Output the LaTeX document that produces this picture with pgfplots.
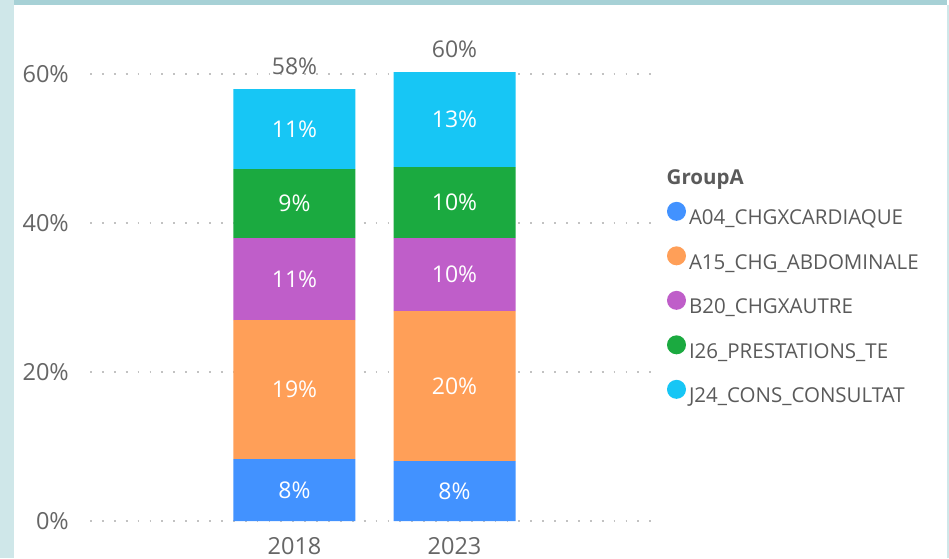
\documentclass[border=0pt]{standalone}
\usepackage{fontspec}
\setmainfont{Open Sans}
\usepackage{pgfplots}
\pgfplotsset{compat=1.18}
\usepackage{pgfplotstable}
\definecolor{cA}{HTML}{4292FF}
\definecolor{cB}{HTML}{FF9F58}
\definecolor{cC}{HTML}{BF5EC9}
\definecolor{cD}{HTML}{1BAA40}
\definecolor{cE}{HTML}{17C6F5}
\definecolor{txt}{HTML}{666666}
\definecolor{legtxt}{HTML}{5A5A5A}
\definecolor{leftbg}{HTML}{CFE7E9}
\definecolor{topbg}{HTML}{A7D1D6}
\definecolor{gridc}{HTML}{C2C2C2}

% segment values (%), their rounded labels, label positions (segment middles) and totals
\pgfplotstableread{
x a b c d e la lb lc ld le ma mb mc md me top tot
0 8.32 18.66 11.00 9.26 10.74 8 19 11 9 11 4.16 17.65 32.48 42.61 52.61 57.98 58
1 8.05 20.13 9.80 9.53 12.75 8 20 10 10 13 4.03 18.12 33.08 42.75 53.89 60.26 60
}\data

\begin{document}
\begin{tikzpicture}[x=1pt,y=1pt,font=\fontsize{23}{27}\selectfont]
\useasboundingbox (0,0) rectangle (949,558);
\fill[white] (0,0) rectangle (949,558);
\fill[leftbg] (0,0) rectangle (14,558);
\fill[topbg] (14,553) rectangle (947,558);
\fill[leftbg] (947,0) rectangle (949,553);
\begin{axis}[
  at={(90pt,37pt)}, anchor=south west,
  scale only axis, width=565pt, height=447pt,
  xmin=-1.278, xmax=2.253, ymin=0, ymax=60,
  enlargelimits=false, clip=false,
  ybar stacked, bar width=122pt,
  axis line style={draw=none},
  major tick length=0pt,
  /pgf/number format/assume math mode=true,
  tick label style={font=\fontsize{23.5}{27}\selectfont},
  xtick={0,1}, xticklabels={2018,2023},
  xticklabel style={text=txt, inner sep=0pt, anchor=north, yshift=-16pt},
  ytick={0,20,40,60},
  yticklabel={\pgfmathprintnumber{\tick}\%},
  yticklabel style={text=txt, inner sep=0pt, anchor=east, xshift=-21pt},
  ymajorgrids,
  major grid style={gridc, line width=1.8pt, dash pattern=on 1.8pt off 10.1pt},
  legend cell align=left,
  legend style={at={(1.02124,0.714)}, anchor=north west, draw=none, fill=none,
    inner sep=0pt, outer sep=0pt, row sep=17.5pt, text=legtxt,
    font=\fontsize{20.5}{24}\selectfont,
    nodes={inner sep=0pt, text height=15pt, text depth=4pt},
    /tikz/every odd column/.append style={column sep=3pt}},
  legend image code/.code={\fill[#1] (9.5pt,8pt) circle (9.5pt);},
]
\addplot[fill=cA, draw=none] table[x=x,y=a]{\data};
\addlegendentry{A04\_CHGXCARDIAQUE}
\addplot[fill=cB, draw=none] table[x=x,y=b]{\data};
\addlegendentry{A15\_CHG\_ABDOMINALE}
\addplot[fill=cC, draw=none] table[x=x,y=c]{\data};
\addlegendentry{B20\_CHGXAUTRE}
\addplot[fill=cD, draw=none] table[x=x,y=d]{\data};
\addlegendentry{I26\_PRESTATIONS\_TE}
\addplot[fill=cE, draw=none] table[x=x,y=e]{\data};
\addlegendentry{J24\_CONS\_CONSULTAT}
\end{axis}
\begin{axis}[
  at={(90pt,37pt)}, anchor=south west,
  scale only axis, width=565pt, height=447pt,
  xmin=-1.278, xmax=2.253, ymin=0, ymax=60,
  enlargelimits=false, clip=false, hide axis,
  /pgf/number format/assume math mode=true,
  point meta=explicit,
  nodes near coords={\pgfmathprintnumber{\pgfplotspointmeta}\%},
  every node near coord/.append style={anchor=center, inner sep=0pt},
]
\addplot[draw=none, mark=none, nodes near coords style={text=white}] table[x=x,y=ma,meta=la]{\data};
\addplot[draw=none, mark=none, nodes near coords style={text=white}] table[x=x,y=mb,meta=lb]{\data};
\addplot[draw=none, mark=none, nodes near coords style={text=white}] table[x=x,y=mc,meta=lc]{\data};
\addplot[draw=none, mark=none, nodes near coords style={text=white}] table[x=x,y=md,meta=ld]{\data};
\addplot[draw=none, mark=none, nodes near coords style={text=white}] table[x=x,y=me,meta=le]{\data};
\addplot[draw=none, mark=none, nodes near coords style={text=txt, yshift=23pt}] table[x=x,y=top,meta=tot]{\data};
\end{axis}
\node[anchor=base west, inner sep=0pt, text=legtxt, font=\fontsize{20.5}{24}\selectfont\bfseries] at (666.5,373.5) {GroupA};
\end{tikzpicture}
\end{document}
